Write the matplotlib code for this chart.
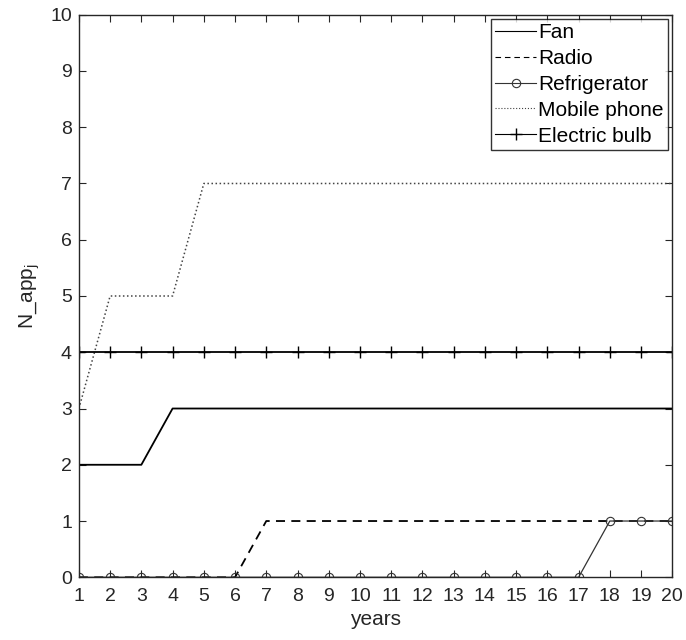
import matplotlib.pyplot as plt
import numpy as np

plt.rcParams['font.family'] = ['Liberation Sans', 'DejaVu Sans']

# data
years = np.arange(1, 21)
fan = [2, 2, 2] + [3] * 17
radio = [0] * 6 + [1] * 14
fridge = [0] * 17 + [1] * 3
mobile = [3, 5, 5, 5] + [7] * 16
bulb = [4] * 20

fig = plt.figure(figsize=(6.86, 6.40), dpi=100)
ax = fig.add_axes([0.115, 0.098, 0.865, 0.879])

ax.plot(years, fan, '-', color='k', lw=1.3, label='Fan')
ax.plot(years, radio, '--', color='k', lw=1.3, dashes=(5, 3.5), label='Radio')
ax.plot(years, fridge, '-', color='#333333', lw=0.9, marker='o', ms=6,
        mfc='none', mec='#333333', mew=0.8, label='Refrigerator')
ax.plot(years, mobile, ':', color='#444444', lw=1.1, label='Mobile phone')
ax.plot(years, bulb, '-', color='k', lw=1.3, marker='+', ms=8, mew=1.0,
        label='Electric bulb')

ax.set_xlim(1, 20)
ax.set_ylim(0, 10)
ax.set_xticks(years)
ax.set_yticks(range(0, 11))
ax.tick_params(direction='in', top=True, right=True, length=5,
               labelsize=14, colors='#262626', width=0.8)
ax.tick_params(axis='x', pad=8)
ax.tick_params(axis='y', pad=5)
for s in ax.spines.values():
    s.set_color('#262626')
    s.set_linewidth(1.0)

ax.set_xlabel('years', fontsize=15, color='#262626', labelpad=3)
ax.set_ylabel('N_app$_\\mathregular{j}$', fontsize=15, color='#262626', labelpad=6)

leg = ax.legend(loc='upper right', fontsize=15, frameon=True, fancybox=False,
                edgecolor='k', borderaxespad=0.2, handlelength=2.0,
                handletextpad=0.1, labelspacing=0.33, borderpad=0.2)
leg.get_frame().set_linewidth(1.0)
for h in leg.get_lines():
    h.set_linewidth(0.8)

fig.savefig('out.png', dpi=100)
